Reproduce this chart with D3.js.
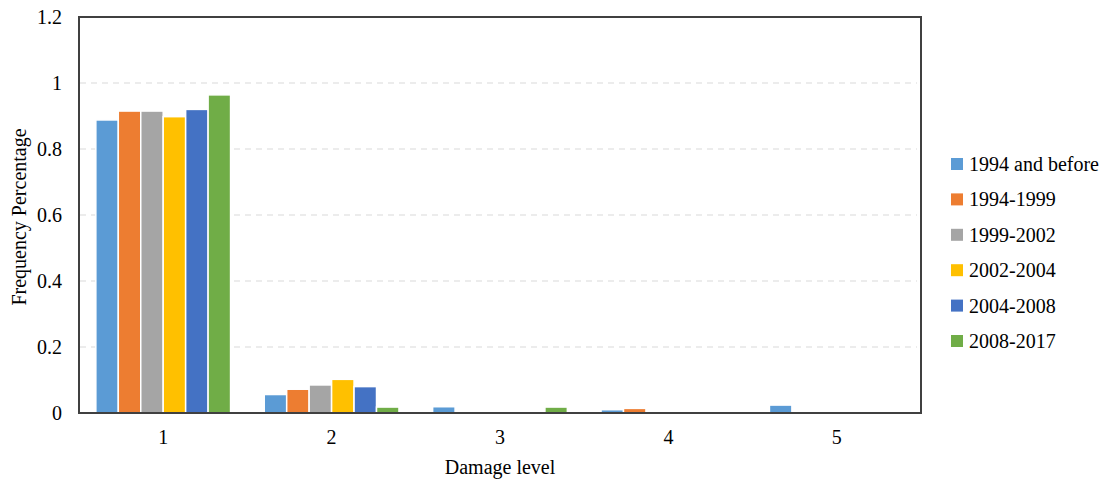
<!DOCTYPE html>
<html>
<head>
<meta charset="utf-8">
<script src="https://cdn.jsdelivr.net/npm/d3@7"></script>
<style>
  html, body { margin: 0; padding: 0; background: #fff; }
  svg text { font-family: "Liberation Serif", "Times New Roman", serif; fill: #000; }
</style>
</head>
<body>
<svg id="chart" width="1109" height="481"></svg>
<script>
// Damage levels on the x axis
const levels = ["1", "2", "3", "4", "5"];
// Construction periods (one series each)
const periods = ["1994 and before", "1994-1999", "1999-2002", "2002-2004", "2004-2008", "2008-2017"];
const colors = ["#5B9BD5", "#ED7D31", "#A5A5A5", "#FFC000", "#4472C4", "#70AD47"];
// Frequency per damage level, one array per period
const s1994before = [0.888, 0.056, 0.019, 0.010, 0.024];
const s1994_1999  = [0.915, 0.072, 0, 0.014, 0];
const s1999_2002  = [0.915, 0.085, 0, 0, 0];
const s2002_2004  = [0.898, 0.102, 0, 0, 0];
const s2004_2008  = [0.920, 0.080, 0, 0, 0];
const s2008_2017  = [0.964, 0.018, 0.018, 0, 0];
const seriesValues = [s1994before, s1994_1999, s1999_2002, s2002_2004, s2004_2008, s2008_2017];
const yTicks = [0, 0.2, 0.4, 0.6, 0.8, 1, 1.2];

const svg = d3.select("#chart");
const plot = { left: 79, right: 921, top: 17, bottom: 413 };

const x0 = d3.scaleBand().domain(levels).range([plot.left, plot.right])
  .paddingInner(0.2).paddingOuter(0.1);
const x1 = d3.scaleBand().domain(periods).range([0, x0.bandwidth()]);
const y = d3.scaleLinear().domain([0, 1.2]).range([plot.bottom, plot.top]);
const fmt = d => (d === 0 || d === 1) ? String(d) : String(d);

// dashed gridlines
svg.append("g").selectAll("line")
  .data(yTicks.filter(t => t > 0 && t < 1.2))
  .join("line")
  .attr("x1", plot.left + 1).attr("x2", plot.right - 4)
  .attr("y1", d => y(d)).attr("y2", d => y(d))
  .attr("stroke", "#d9d9d9").attr("stroke-width", 1.2)
  .attr("stroke-dasharray", "6,5");

// bars
const rows = [];
levels.forEach((lv, i) => {
  periods.forEach((p, j) => {
    rows.push({ level: lv, period: p, value: seriesValues[j][i], color: colors[j] });
  });
});
svg.append("g").selectAll("rect")
  .data(rows.filter(d => d.value > 0))
  .join("rect")
  .attr("x", d => x0(d.level) + x1(d.period))
  .attr("width", x1.bandwidth())
  .attr("y", d => y(d.value))
  .attr("height", d => y(0) - y(d.value))
  .attr("fill", d => d.color)
  .attr("stroke", "#fff").attr("stroke-width", 1.5);

// y axis labels
const yAxis = d3.axisLeft(y).tickValues(yTicks).tickFormat(fmt).tickSize(0).tickPadding(17);
const gy = svg.append("g").attr("transform", `translate(${plot.left},0)`).call(yAxis);
gy.select(".domain").remove();
gy.selectAll("text").style("font-size", "20px").style("font-family", "Liberation Serif");

// x axis labels
const xAxis = d3.axisBottom(x0).tickSize(0).tickPadding(17);
const gx = svg.append("g").attr("transform", `translate(0,${plot.bottom})`).call(xAxis);
gx.select(".domain").remove();
gx.selectAll("text").style("font-size", "20px").style("font-family", "Liberation Serif");

// plot frame
svg.append("rect")
  .attr("x", plot.left).attr("y", plot.top)
  .attr("width", plot.right - plot.left).attr("height", plot.bottom - plot.top)
  .attr("fill", "none").attr("stroke", "#404040").attr("stroke-width", 2);

// axis titles
svg.append("text")
  .attr("x", (plot.left + plot.right) / 2).attr("y", 474)
  .attr("text-anchor", "middle").style("font-size", "20px")
  .text("Damage level");
svg.append("text")
  .attr("transform", `translate(26,${(plot.top + plot.bottom) / 2 + 2}) rotate(-90)`)
  .attr("text-anchor", "middle").style("font-size", "20px")
  .text("Frequency Percentage");

// legend
const legend = svg.append("g").selectAll("g")
  .data(periods)
  .join("g")
  .attr("transform", (d, i) => `translate(951,${164 + i * 35.4})`);
legend.append("rect")
  .attr("x", 0).attr("y", -6).attr("width", 12).attr("height", 12)
  .attr("fill", (d, i) => colors[i]);
legend.append("text")
  .attr("x", 18).attr("y", 7)
  .style("font-size", "20px")
  .text(d => d);
</script>
</body>
</html>
